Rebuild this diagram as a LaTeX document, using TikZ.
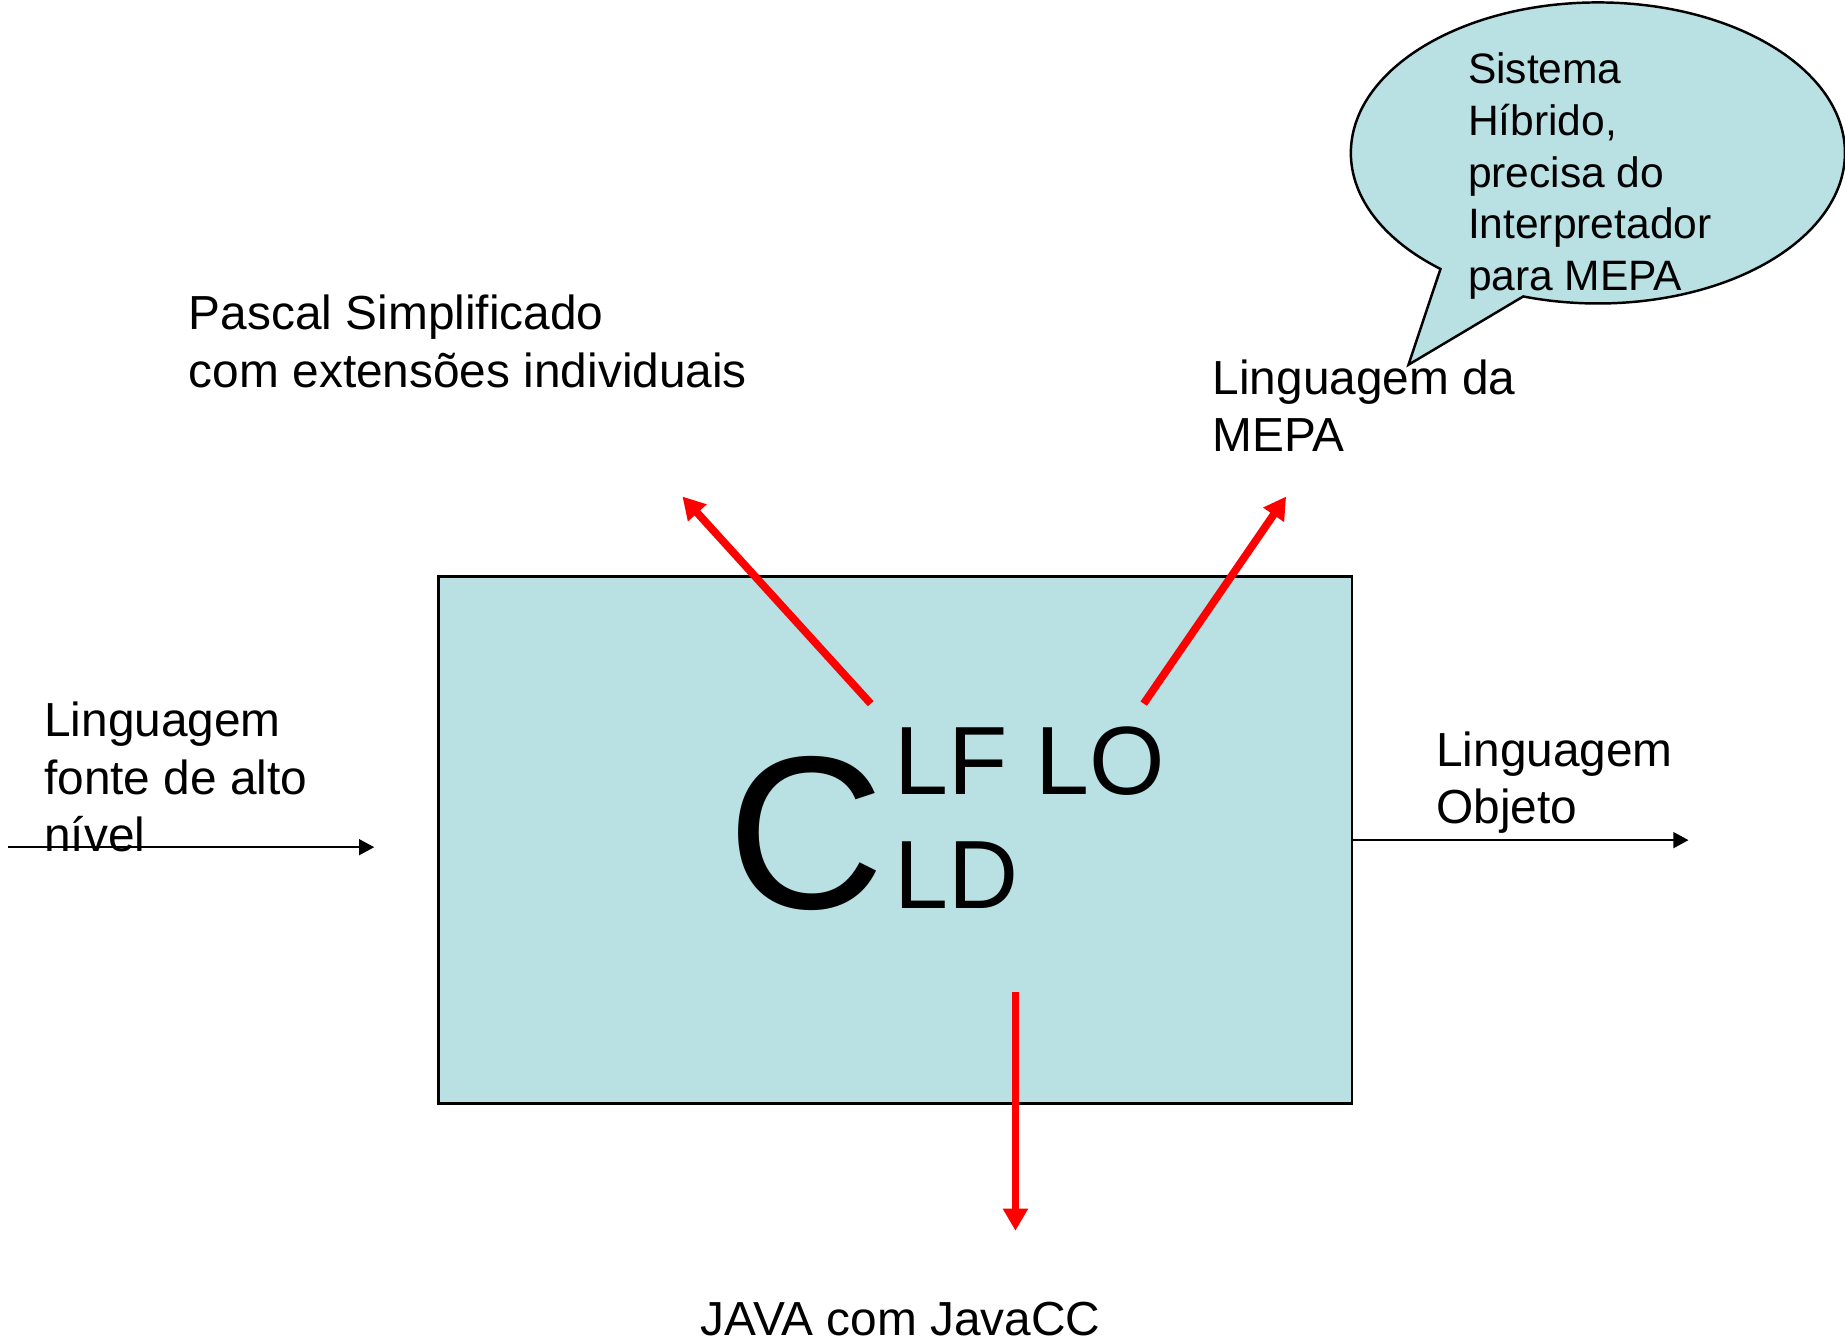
\documentclass[tikz,border=0pt]{standalone}
\usepackage{fontspec}
\setmainfont{Liberation Sans}
\usetikzlibrary{arrows.meta,shapes.callouts}
\definecolor{boxblue}{RGB}{185,224,227}
\tikzset{
  txt/.style={anchor=base west, inner sep=0pt, align=left, font=\fontsize{13.6}{16.4}\selectfont},
  balaotxt/.style={anchor=base west, inner sep=0pt, align=left, font=\fontsize{12.1}{14.7}\selectfont},
  redarrow/.style={red, line width=2.2pt, -{Triangle[length=6.3pt, width=6.8pt]}},
  blackarrow/.style={black, line width=0.6pt, -{Triangle[length=4.3pt, width=4.5pt]}}
}

\begin{document}
\begin{tikzpicture}[x=0.011767cm, y=-0.011767cm]
  \useasboundingbox (0,0) rectangle (1568,1141);

  % compilador
  \node[draw, line width=0.8pt, fill=boxblue, inner sep=0pt,
        minimum width=9.131cm, minimum height=5.272cm] (comp) at (761,714) {};

  \node[anchor=base west, inner sep=0pt, font=\fontsize{62}{62}\selectfont] (c) at (618,772) {C};
  \node[anchor=base west, inner sep=0pt, font=\fontsize{27.6}{27.6}\selectfont] (lflo) at (760,675) {LF LO};
  \node[anchor=base west, inner sep=0pt, font=\fontsize{27.6}{27.6}\selectfont] (ld) at (760,772) {LD};

  \coordinate (lfout)  at (740,598);
  \coordinate (lftip)  at (580,422);
  \coordinate (loout)  at (972,598);
  \coordinate (lotip)  at (1093,422);
  \coordinate (ldout)  at (863,843);
  \coordinate (ldtip)  at (863,1046);
  \coordinate (inini)  at (7,720);
  \coordinate (infim)  at (318,720);
  \coordinate (outfim) at (1435,714);

  \draw[redarrow] (lfout) -- (lftip);
  \draw[redarrow] (loout) -- (lotip);
  \draw[redarrow] (ldout) -- (ldtip);

  \draw[blackarrow] (inini) -- (infim);
  \draw[blackarrow] (comp.east) -- (outfim);

  % balao
  \node[ellipse callout, draw, line width=0.7pt, fill=boxblue, inner sep=0pt,
        minimum width=4.94cm, minimum height=3.01cm,
        callout absolute pointer={(1197,310)}, callout pointer arc=22] (balao) at (1358,130) {};
  \node[balaotxt] (hibrido) at (1247,247)
    {Sistema\\Híbrido,\\precisa do\\Interpretador\\para MEPA};

  \node[txt] (pascal) at (160,329) {Pascal Simplificado\\com extensões individuais};
  \node[txt] (mepa)   at (1030,384) {Linguagem da\\MEPA};
  \node[txt] (fonte)  at (37,724)  {Linguagem\\fonte de alto\\nível};
  \node[txt] (objeto) at (1220,700) {Linguagem\\Objeto};
  \node[txt] (java)   at (595,1135) {JAVA com JavaCC};
\end{tikzpicture}
\end{document}
